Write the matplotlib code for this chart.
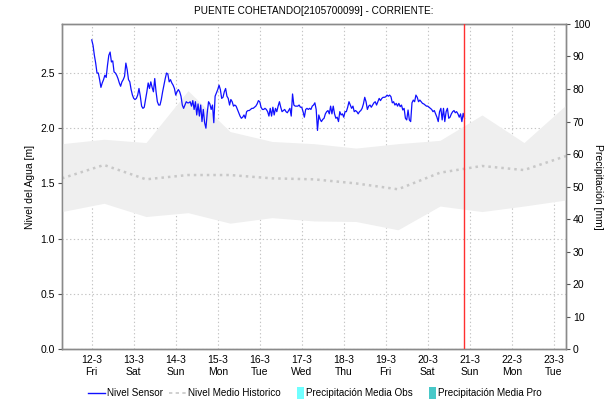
import numpy as np
import pandas as pd
import matplotlib
matplotlib.use("Agg")
import matplotlib.pyplot as plt
import matplotlib.dates as mdates
from matplotlib.lines import Line2D
from matplotlib.patches import Patch, Rectangle
from matplotlib.legend_handler import HandlerPatch

plt.rcParams['font.family'] = ['Liberation Sans', 'DejaVu Sans']

title = "PUENTE COHETANDO[2105700099] - CORRIENTE:"

# Sensor water level [m], every 45 minutes from 12-3 00:00
sensor_start = "2021-03-12 00:00"
sensor_step = "45min"
sensor_level = [
    2.80, 2.75, 2.66, 2.59, 2.50, 2.50, 2.44, 2.37, 2.41, 2.44,
    2.48, 2.46, 2.57, 2.66, 2.69, 2.60, 2.61, 2.51, 2.50, 2.48,
    2.45, 2.41, 2.38, 2.42, 2.44, 2.47, 2.59, 2.53, 2.44, 2.42,
    2.35, 2.30, 2.27, 2.26, 2.27, 2.30, 2.36, 2.29, 2.20, 2.18,
    2.19, 2.26, 2.33, 2.41, 2.36, 2.42, 2.37, 2.33, 2.45, 2.33,
    2.24, 2.21, 2.21, 2.26, 2.33, 2.39, 2.45, 2.50, 2.49, 2.42,
    2.44, 2.41, 2.39, 2.36, 2.30, 2.33, 2.35, 2.33, 2.29, 2.21,
    2.18, 2.21, 2.24, 2.23, 2.23, 2.24, 2.20, 2.25, 2.17, 2.24,
    2.12, 2.22, 2.11, 2.21, 2.06, 2.17, 2.05, 2.00, 2.14, 2.24,
    2.22, 2.17, 2.21, 2.05, 2.29, 2.32, 2.35, 2.39, 2.35, 2.27,
    2.28, 2.33, 2.36, 2.29, 2.27, 2.21, 2.26, 2.24, 2.20, 2.21,
    2.20, 2.17, 2.14, 2.11, 2.09, 2.10, 2.12, 2.09, 2.15, 2.16,
    2.16, 2.17, 2.18, 2.18, 2.19, 2.20, 2.22, 2.25, 2.24, 2.19,
    2.17, 2.17, 2.18, 2.17, 2.15, 2.11, 2.18, 2.11, 2.19, 2.12,
    2.18, 2.15, 2.20, 2.24, 2.19, 2.15, 2.16, 2.17, 2.15, 2.14,
    2.16, 2.18, 2.11, 2.31, 2.21, 2.20, 2.20, 2.20, 2.21, 2.19,
    2.19, 2.15, 2.10, 2.17, 2.18, 2.17, 2.18, 2.17, 2.20, 2.21,
    2.23, 2.17, 1.98, 2.12, 2.08, 2.06, 2.08, 2.09, 2.13, 2.15,
    2.16, 2.13, 2.20, 2.13, 2.20, 2.13, 2.09, 2.10, 2.06, 2.15,
    2.12, 2.13, 2.10, 2.15, 2.15, 2.19, 2.24, 2.21, 2.18, 2.20,
    2.15, 2.16, 2.15, 2.13, 2.15, 2.16, 2.18, 2.22, 2.28, 2.24,
    2.17, 2.20, 2.21, 2.19, 2.21, 2.23, 2.24, 2.21, 2.24, 2.27,
    2.25, 2.27, 2.28, 2.28, 2.285, 2.30, 2.29, 2.30, 2.285, 2.23,
    2.24, 2.21, 2.225, 2.20, 2.225, 2.195, 2.21, 2.165, 2.18, 2.09,
    2.075, 2.165, 2.075, 2.06, 2.23, 2.255, 2.24, 2.30, 2.28, 2.24,
    2.255, 2.24, 2.225, 2.22, 2.21, 2.20, 2.20, 2.19, 2.18, 2.17,
    2.15, 2.16, 2.13, 2.10, 2.06, 2.15, 2.18, 2.075, 2.18, 2.06,
    2.15, 2.18, 2.09, 2.10, 2.13, 2.15, 2.16, 2.14, 2.15, 2.13,
    2.10, 2.13, 2.06, 2.135, 2.09,
]

# Historic daily statistics [m], daily at 07:00 from 11-3
hist_start = "2021-03-11 07:00"
hist_upper = [1.86, 1.90, 1.87, 2.34, 1.97, 1.88, 1.86, 1.82, 1.86, 1.89, 2.12, 1.87, 2.21]
hist_lower = [1.245, 1.32, 1.20, 1.235, 1.14, 1.19, 1.16, 1.155, 1.08, 1.295, 1.245, 1.295, 1.35]
hist_mean = [1.546, 1.667, 1.537, 1.576, 1.576, 1.546, 1.537, 1.50, 1.447, 1.597, 1.658, 1.621, 1.748]

# Precipitation [mm] (no rain in the period)
precip_days = pd.date_range("2021-03-12", "2021-03-23", freq="D")
precip_obs = [0] * len(precip_days)
precip_pro = [0] * len(precip_days)

now_time = "2021-03-20 21:00"
x_start, x_end = "2021-03-11 07:00", "2021-03-23 07:00"

level_max = 2.944
precip_max = 100

sensor_t = pd.date_range(sensor_start, periods=len(sensor_level), freq=sensor_step)
hist_t = pd.date_range(hist_start, periods=len(hist_mean), freq="D")

fig = plt.figure(figsize=(6.15, 4.04), dpi=100)
ax = fig.add_axes([0.1008, 0.1361, 0.8195, 0.8045])
ax2 = ax.twinx()

ax.set_zorder(ax2.get_zorder() + 1)
ax.patch.set_visible(False)

grid_kw = dict(color="#c4c4c4", linewidth=0.8, linestyle=(0, (1.2, 2.2)))

ax.fill_between(hist_t, hist_lower, hist_upper, color="#efefef", linewidth=0, zorder=1)
ax.plot(hist_t, hist_mean, color="#c8c8c8", linewidth=1.8, linestyle=(0, (1, 1.6)), zorder=2)
ax.plot(sensor_t, sensor_level, color="#1010ff", linewidth=0.9, zorder=4)
ax.axvline(pd.Timestamp(now_time), color="#ff3030", linewidth=1.0, zorder=5)

bar_w = 0.35
ax2.bar(precip_days - pd.Timedelta(hours=4), precip_obs, width=bar_w, color="#70ffff")
ax2.bar(precip_days + pd.Timedelta(hours=4), precip_pro, width=bar_w, color="#48c8c8")

ax.set_xlim(pd.Timestamp(x_start), pd.Timestamp(x_end))
ax.set_ylim(0, level_max)
ax2.set_ylim(0, precip_max)

ax.set_yticks(np.arange(0, 2.51, 0.5))
ax.yaxis.set_major_formatter(matplotlib.ticker.FormatStrFormatter("%.1f"))
ax2.set_yticks(np.arange(0, 101, 10))

ax.xaxis.set_major_locator(mdates.DayLocator())
ax.xaxis.set_major_formatter(
    matplotlib.ticker.FuncFormatter(
        lambda v, p: f"{mdates.num2date(v).day}-{mdates.num2date(v).month}\n{mdates.num2date(v).strftime('%a')}"
    )
)
ax.grid(True, **grid_kw)
ax.set_axisbelow(True)

for a in (ax, ax2):
    for s in a.spines.values():
        s.set_color("#8a8a8a")
        s.set_linewidth(1.0)
ax.tick_params(axis="x", length=0, labelsize=7.5, pad=4)
ax.tick_params(axis="y", length=3, color="#555555", labelsize=7.5, pad=2)
ax2.tick_params(axis="y", length=3, color="#555555", labelsize=7.5, pad=2)
for lbl in ax.get_xticklabels():
    lbl.set_linespacing(1.35)

ax.set_ylabel("Nivel del Agua [m]", fontsize=7.5, labelpad=4)
ax2.set_ylabel("Precipitación [mm]", fontsize=7.5, rotation=270, labelpad=9)
ax.set_title(title, fontsize=7.2, pad=7)


def narrow_box(legend, orig_handle, xdescent, ydescent, width, height, fontsize):
    w = 4.5
    h = height * 1.7
    return Rectangle((width - xdescent - w, -ydescent + (height - h) / 2), w, h)


handles = [
    Line2D([], [], color="#1010ff", linewidth=1.0),
    Line2D([], [], color="#c8c8c8", linewidth=1.2, linestyle=(0, (2, 2))),
    Patch(facecolor="#70ffff", edgecolor="none"),
    Patch(facecolor="#48c8c8", edgecolor="none"),
]
labels = ["Nivel Sensor", "Nivel Medio Historico", "Precipitación Media Obs", "Precipitación Media Pro"]
fig.legend(handles, labels, loc="center", bbox_to_anchor=(0.512, 0.027), ncol=4, frameon=False,
           fontsize=7.1, handlelength=1.7, handletextpad=0.25, columnspacing=0.6,
           handler_map={Patch: HandlerPatch(patch_func=narrow_box)})

fig.savefig("out.png", dpi=100)
